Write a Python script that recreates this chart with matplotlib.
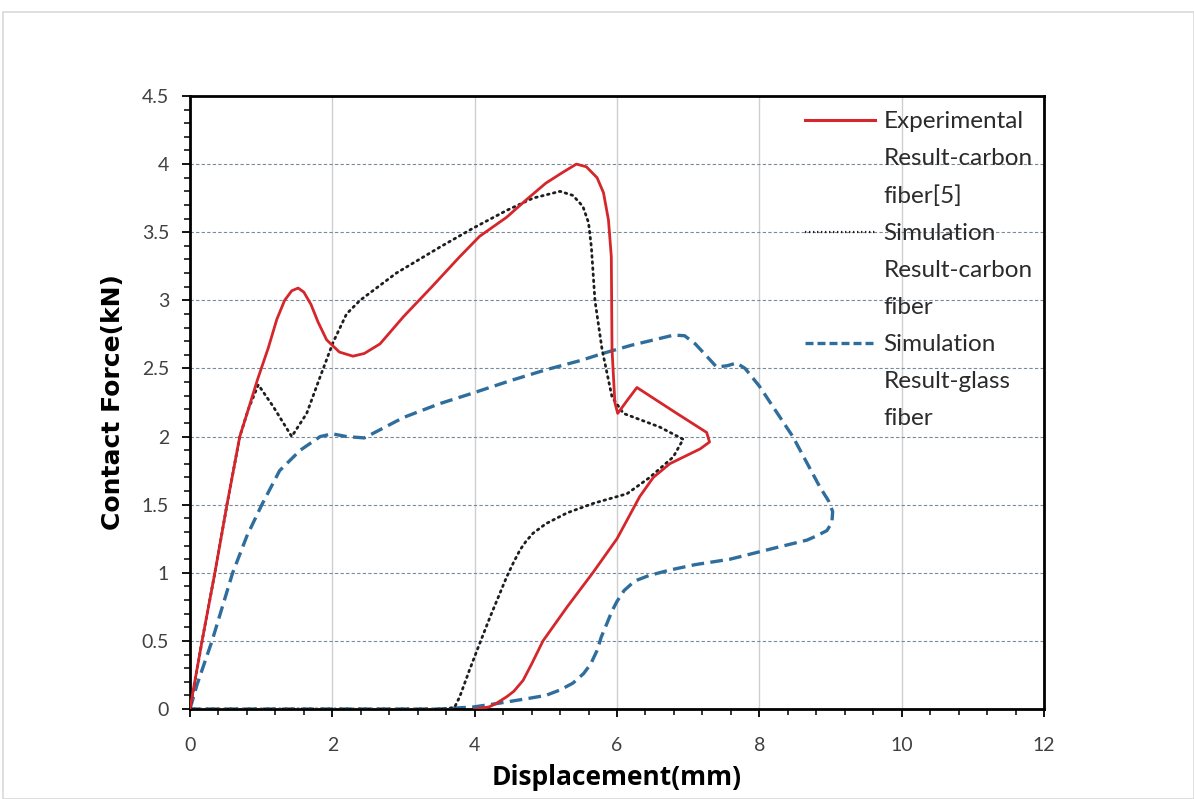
import matplotlib
matplotlib.use("Agg")
import matplotlib.pyplot as plt
from matplotlib.lines import Line2D
from matplotlib.patches import Rectangle
from matplotlib.ticker import MultipleLocator

# Experimental result - carbon fiber [5]
exp_x = [0, 0.05, 0.17, 0.35, 0.52, 0.70, 0.82, 0.95, 1.10, 1.22, 1.33, 1.43, 1.52, 1.60, 1.70,
         1.80, 1.92, 2.10, 2.29, 2.45, 2.67, 3.0, 3.4, 3.79, 4.07, 4.45, 4.73, 5.0, 5.24, 5.43,
         5.57, 5.72, 5.81, 5.88, 5.92, 5.93, 5.97, 6.01, 6.15, 6.28, 6.84, 7.26, 7.3, 7.17,
         6.74, 6.51, 6.32, 6.0, 5.66, 5.3, 4.96, 4.8, 4.68, 4.55, 4.45, 4.3, 4.2, 4.0]
exp_y = [0, 0.15, 0.5, 1.0, 1.5, 2.0, 2.2, 2.42, 2.65, 2.86, 3.0, 3.07, 3.09, 3.06, 2.97,
         2.84, 2.71, 2.62, 2.59, 2.61, 2.68, 2.88, 3.1, 3.32, 3.47, 3.61, 3.74, 3.86, 3.94, 4.0,
         3.98, 3.9, 3.79, 3.59, 3.32, 2.64, 2.25, 2.17, 2.27, 2.36, 2.17, 2.03, 1.96, 1.91,
         1.8, 1.7, 1.56, 1.25, 1.0, 0.75, 0.5, 0.33, 0.21, 0.13, 0.09, 0.04, 0.015, 0.0]

# Simulation result - carbon fiber
simc_x = [0, 0.17, 0.35, 0.52, 0.70, 0.82, 0.96, 1.17, 1.43, 1.64, 1.83, 2.01, 2.2, 2.39, 2.9,
          3.51, 3.98, 4.45, 4.82, 5.2, 5.38, 5.52, 5.6, 5.64, 5.69, 5.79, 5.93, 6.09, 6.6,
          6.93, 6.79, 6.46, 6.14, 5.67, 5.3, 5.0, 4.82, 4.72, 4.64, 4.55, 4.45, 4.22, 4.07,
          3.93, 3.79, 3.72, 3.6, 0]
simc_y = [0, 0.5, 1.0, 1.5, 2.0, 2.2, 2.38, 2.22, 2.0, 2.17, 2.44, 2.69, 2.9, 3.0, 3.2,
          3.39, 3.53, 3.66, 3.75, 3.8, 3.77, 3.69, 3.57, 3.39, 3.0, 2.64, 2.29, 2.17, 2.07,
          1.98, 1.85, 1.7, 1.58, 1.51, 1.44, 1.36, 1.29, 1.23, 1.17, 1.08, 0.97, 0.68, 0.48,
          0.29, 0.09, 0.015, 0, 0]

# Simulation result - glass fiber
simg_x = [0, 0.1, 0.31, 0.6, 0.8, 1.01, 1.26, 1.55, 1.83, 2.0, 2.2, 2.45, 2.67, 3.0, 3.5, 3.98,
          4.5, 5.0, 5.5, 5.8, 6.2, 6.6, 6.8, 6.95, 7.1, 7.26, 7.4, 7.55, 7.68, 7.8, 8.0, 8.47,
          8.85, 8.97, 9.03, 9.02, 8.95, 8.8, 8.67, 8.2, 7.59, 7.1, 6.74, 6.45, 6.25, 6.1,
          6.0, 5.93, 5.86, 5.78, 5.72, 5.63, 5.53, 5.38, 5.2, 5.0, 4.78, 4.31, 3.98, 3.5, 0]
simg_y = [0, 0.18, 0.5, 1.0, 1.27, 1.5, 1.75, 1.9, 2.0, 2.02, 2.0, 1.99, 2.05, 2.14, 2.24, 2.32,
          2.41, 2.49, 2.56, 2.61, 2.67, 2.72, 2.745, 2.74, 2.68, 2.59, 2.51, 2.52, 2.54, 2.5,
          2.37, 2.0, 1.63, 1.53, 1.45, 1.37, 1.31, 1.27, 1.24, 1.18, 1.1, 1.06, 1.02, 0.98,
          0.94, 0.87, 0.79, 0.72, 0.63, 0.53, 0.43, 0.33, 0.26, 0.19, 0.14, 0.1, 0.08, 0.04,
          0.015, 0, 0]

legend_lines = ["Experimental", "Result-carbon", "fiber[5]",
                "Simulation", "Result-carbon", "fiber",
                "Simulation", "Result-glass", "fiber"]

red = "#d5262b"
blue = "#2f6e9c"

fig = plt.figure(figsize=(11.94, 7.99), dpi=100)
ax = fig.add_axes([0.1591, 0.1126, 0.7153, 0.7673])

# light border around chart area
fig.patches.append(Rectangle((3 / 1194, 0), 1 - 3 / 1194, 1 - 12 / 799, transform=fig.transFigure,
                             fill=False, edgecolor="#d9d9d9", linewidth=1.2))

ax.plot(exp_x, exp_y, color=red, linewidth=2.0, solid_joinstyle="round", zorder=4)
ax.plot(simc_x, simc_y, color="#1e1e1e", linewidth=2.0, linestyle=(0, (0.6, 1.6)),
        dash_capstyle="round", zorder=3)
ax.plot(simg_x, simg_y, color=blue, linewidth=2.4, linestyle=(0, (3.8, 1.9)), zorder=2)

ax.set_xlim(0, 12)
ax.set_ylim(0, 4.5)
ax.xaxis.set_major_locator(MultipleLocator(2))
ax.xaxis.set_minor_locator(MultipleLocator(0.4))
ax.yaxis.set_major_locator(MultipleLocator(0.5))
ax.yaxis.set_minor_locator(MultipleLocator(0.1))
ax.set_yticks([0, 0.5, 1, 1.5, 2, 2.5, 3, 3.5, 4, 4.5])
ax.set_yticklabels(["0", "0.5", "1", "1.5", "2", "2.5", "3", "3.5", "4", "4.5"])

ax.grid(True, which="major", axis="y", color="#7a8a99", linestyle=(0, (3, 2)), linewidth=0.8)
ax.grid(True, which="major", axis="x", color="#cfcfcf", linestyle="-", linewidth=1.0)
ax.set_axisbelow(True)

for s in ax.spines.values():
    s.set_linewidth(2.0)
    s.set_color("black")

ax.tick_params(axis="both", which="major", direction="out", length=6, width=1.3,
               labelsize=14, labelcolor="#404040", color="black")
ax.tick_params(axis="both", which="minor", direction="out", length=4, width=1.1, color="black")
ax.tick_params(axis="x", which="major", pad=14)
ax.tick_params(axis="y", which="major", pad=9)
for lab in ax.get_xticklabels() + ax.get_yticklabels():
    lab.set_family("Lato")

ax.set_xlabel("Displacement(mm)", fontsize=19, fontweight="bold", family="Open Sans", labelpad=7)
ax.set_ylabel("Contact Force(kN)", fontsize=18, fontweight="bold", family="DejaVu Sans", labelpad=12)

handles = [Line2D([], [], color=red, linewidth=2.2),
           Line2D([], [], color="none"), Line2D([], [], color="none"),
           Line2D([], [], color="#1e1e1e", linewidth=1.6, linestyle=(0, (0.6, 1.2))),
           Line2D([], [], color="none"), Line2D([], [], color="none"),
           Line2D([], [], color=blue, linewidth=2.4, linestyle=(0, (2.4, 1.2))),
           Line2D([], [], color="none"), Line2D([], [], color="none")]
leg = ax.legend(handles, legend_lines, loc="upper left", bbox_to_anchor=(0.720, 0.975),
                frameon=False, borderpad=0, borderaxespad=0, handlelength=2.9,
                handletextpad=0.33, labelspacing=0.66, prop={"family": "Lato", "size": 17.5})
for t in leg.get_texts():
    t.set_color("#2b2b2b")

fig.savefig("out.png", dpi=100)
